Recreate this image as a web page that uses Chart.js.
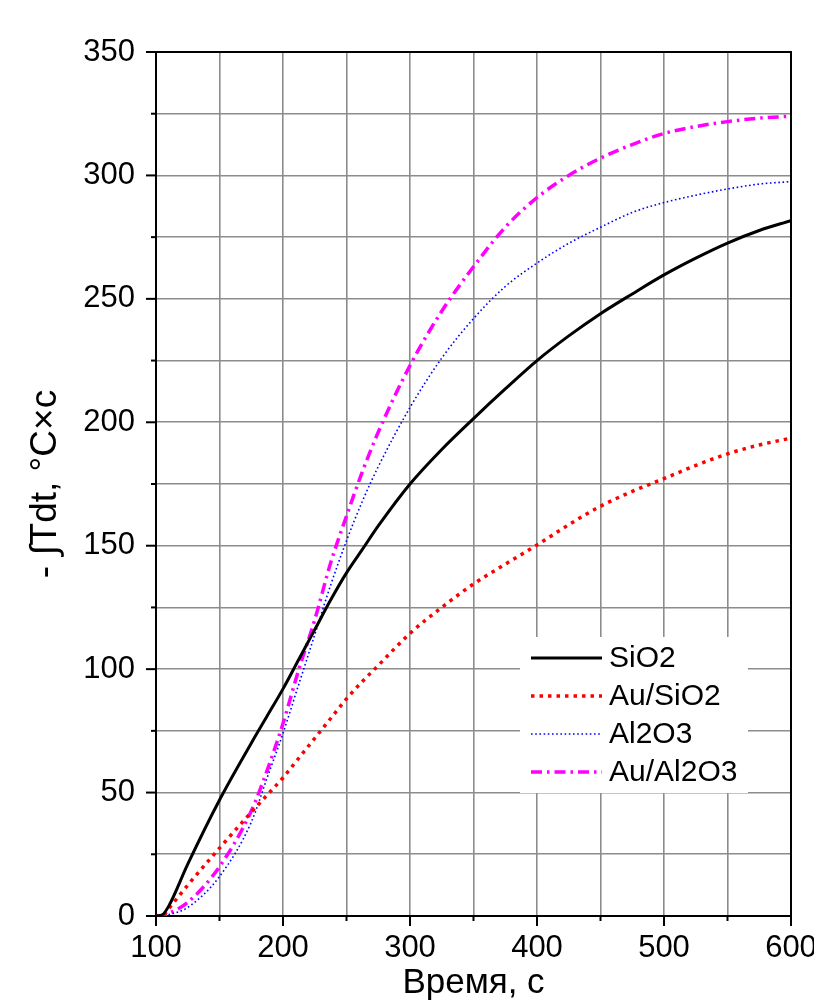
<!DOCTYPE html>
<html>
<head>
<meta charset="utf-8">
<script src="https://cdn.jsdelivr.net/npm/chart.js@4.4.1/dist/chart.umd.min.js"></script>
<style>
  html, body { margin: 0; padding: 0; background: #fff; }
  #wrap { width: 814px; height: 1002px; }
</style>
</head>
<body>
<div id="wrap"><canvas id="chart" width="814" height="1002"></canvas></div>
<script>
// время, с
const timeSec = [100, 105, 110, 125, 150, 175, 187.5, 200, 212.5, 225, 237.5, 250, 262.5, 275, 300, 325, 350, 375, 400, 425, 450, 475, 500, 525, 550, 575, 600];

// -∫Tdt для каждого образца
const sio2    = [0, 0.5, 4, 21, 47, 70, 81, 92, 104, 116, 128, 139, 148.5, 158, 175, 189, 201.5, 213.5, 225, 235, 244, 252, 259.7, 266.5, 272.6, 277.7, 281.7];
const auSio2  = [0, 0, 3, 12.5, 27.5, 42, 49, 56, 64, 72, 80, 88, 95, 101.5, 114.5, 125, 134.5, 142.5, 150.3, 158.5, 166, 172, 177.2, 182.5, 187.2, 190.8, 193.6];
const al2o3   = [0, 0, 0.5, 3.5, 16, 38, 56, 74, 94, 114, 134, 152, 168, 182, 206, 226, 242, 255, 264.5, 272.5, 279, 285, 289, 292, 294.5, 296.5, 297.5];
const auAl2o3 = [0, 0, 1, 5.5, 20, 42.5, 59, 78, 100, 120, 143, 162, 180, 196, 223, 245, 263, 279, 291, 300, 307, 312.5, 317, 319.8, 321.8, 323.2, 324];

const seriesNames = ['SiO2', 'Au/SiO2', 'Al2O3', 'Au/Al2O3'];

const FONT = 'Liberation Sans, Arial, sans-serif';

function toPoints(values) {
    return timeSec.map((t, i) => ({ x: t, y: values[i] }));
}

/**
 * Рамка графика и засечки (большие и малые)
 */
const frameAndTicks = {
    id: 'frameAndTicks',
    beforeDatasetsDraw(chart) {
        const { ctx, chartArea: a, scales: { x, y } } = chart;
        ctx.save();
        ctx.strokeStyle = '#000';
        ctx.lineWidth = 2;
        ctx.strokeRect(a.left, a.top, a.right - a.left, a.bottom - a.top);
        x.ticks.forEach(t => {
            const px = x.getPixelForValue(t.value);
            const len = t.value % 100 === 0 ? 10 : 5;
            ctx.beginPath();
            ctx.moveTo(px, a.bottom);
            ctx.lineTo(px, a.bottom + len);
            ctx.stroke();
        });
        y.ticks.forEach(t => {
            const py = y.getPixelForValue(t.value);
            const len = t.value % 50 === 0 ? 10 : 5;
            ctx.beginPath();
            ctx.moveTo(a.left, py);
            ctx.lineTo(a.left - len, py);
            ctx.stroke();
        });
        ctx.restore();
    }
};

/**
 * Легенда внутри области графика, справа внизу
 */
const boxLegend = {
    id: 'boxLegend',
    afterDatasetsDraw(chart) {
        const { ctx, chartArea: a } = chart;
        const left = a.right - 271;
        const top = a.bottom - 279;
        ctx.save();
        ctx.fillStyle = '#fff';
        ctx.fillRect(left, top, 228, 156);
        chart.data.datasets.forEach((ds, i) => {
            const yy = top + 21 + i * 38;
            ctx.strokeStyle = ds.borderColor;
            ctx.lineWidth = ds.borderWidth;
            ctx.setLineDash(ds.borderDash || []);
            ctx.beginPath();
            ctx.moveTo(left + 11, yy);
            ctx.lineTo(left + 82, yy);
            ctx.stroke();
            ctx.setLineDash([]);
            ctx.fillStyle = '#000';
            ctx.font = '30px ' + FONT;
            ctx.textBaseline = 'middle';
            ctx.textAlign = 'left';
            ctx.fillText(ds.label, left + 89, yy + 1);
        });
        ctx.restore();
    }
};

const ctx = document.getElementById('chart');
new Chart(ctx, {
    type: 'line',
    data: {
        datasets: [
            { label: seriesNames[0], data: toPoints(sio2), borderColor: '#000000', borderWidth: 3 },
            { label: seriesNames[1], data: toPoints(auSio2), borderColor: '#ff0000', borderWidth: 3.5, borderDash: [3.5, 5] },
            { label: seriesNames[2], data: toPoints(al2o3), borderColor: '#0000ff', borderWidth: 1.6, borderDash: [1.6, 2.6] },
            { label: seriesNames[3], data: toPoints(auAl2o3), borderColor: '#ff00ff', borderWidth: 3.5, borderDash: [11, 5, 2.5, 5] }
        ]
    },
    options: {
        responsive: false,
        animation: false,
        layout: { autoPadding: false, padding: { top: 52, right: 23, left: 0, bottom: 0 } },
        elements: {
            point: { radius: 0 },
            line: { cubicInterpolationMode: 'monotone', fill: false }
        },
        plugins: {
            legend: { display: false },
            tooltip: { enabled: false }
        },
        scales: {
            x: {
                type: 'linear',
                min: 100,
                max: 600,
                afterFit(scale) {
                    scale.height = 86;
                    // подпись 600 обрезается краем, как в оригинале
                    scale.paddingLeft = 0;
                    scale.paddingRight = 0;
                },
                grid: { color: '#8c8c8c', lineWidth: 1.6, drawTicks: false },
                border: { display: false },
                ticks: {
                    stepSize: 50,
                    padding: 14,
                    color: '#000',
                    font: { family: FONT, size: 31 },
                    maxRotation: 0,
                    autoSkip: false,
                    callback: v => (v % 100 === 0 ? v : '')
                },
                title: {
                    display: true,
                    text: 'Время, с',
                    color: '#000',
                    font: { family: FONT, size: 35 },
                    padding: { top: 0, bottom: -2 }
                }
            },
            y: {
                type: 'linear',
                min: 0,
                max: 350,
                afterFit(scale) {
                    scale.width = 156;
                    scale.paddingTop = 0;
                    scale.paddingBottom = 0;
                },
                grid: { color: '#8c8c8c', lineWidth: 1.6, drawTicks: false },
                border: { display: false },
                ticks: {
                    stepSize: 25,
                    padding: 21,
                    color: '#000',
                    font: { family: FONT, size: 31 },
                    autoSkip: false,
                    callback: v => (v % 50 === 0 ? v : '')
                },
                title: {
                    display: true,
                    text: '- ∫Tdt, °C×c',
                    color: '#000',
                    font: { family: FONT, size: 37 },
                    padding: { top: 24, bottom: 0 }
                }
            }
        }
    },
    plugins: [frameAndTicks, boxLegend]
});
</script>
</body>
</html>
